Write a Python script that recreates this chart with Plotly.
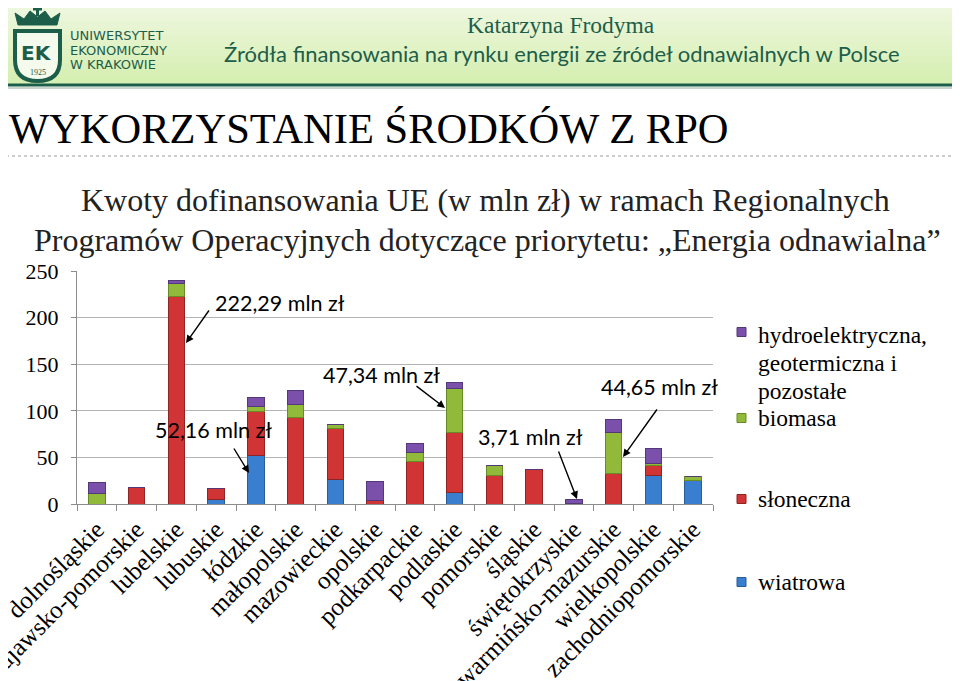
import plotly.graph_objects as go

# data (mln zł)
regions = ["dolnośląskie", "kujawsko-pomorskie", "lubelskie", "lubuskie", "łódzkie",
           "małopolskie", "mazowieckie", "opolskie", "podkarpackie", "podlaskie",
           "pomorskie", "śląskie", "świętokrzyskie", "warmińsko-mazurskie",
           "wielkopolskie", "zachodniopomorskie"]
wiatrowa = [0, 0, 0, 5, 52.16, 0, 26, 0, 0, 12.6, 0, 0, 0, 0, 30.2, 25]
sloneczna = [0, 18, 222.29, 12, 47.3, 92.3, 55.5, 3.5, 46, 63.6, 30.2, 37.4, 0.6, 32.3, 11, 0]
biomasa = [11.5, 0, 14, 0, 5.5, 14.4, 3.5, 0, 9, 47.34, 10.8, 0, 0, 44.65, 2, 5]
hydro = [12, 0, 3.3, 0, 9, 15, 0, 20.5, 10, 6.5, 0, 0, 3.71, 13.6, 16, 0]
y_ticks = [0, 50, 100, 150, 200, 250]

colors = {"wiatrowa": "#3A7ECF", "słoneczna": "#D03434", "biomasa": "#92BA3A",
          "hydro": "#7B50AB"}
edges = {"wiatrowa": "#2A5C96", "słoneczna": "#8E2424", "biomasa": "#6A8A28",
         "hydro": "#54397A"}

SERIF = "Liberation Serif, Times New Roman, serif"
SANS = "Lato, Open Sans, sans-serif"
DKGREEN = "#1D5E4A"

# page body has an 8px margin, so the figure is drawn 8px smaller and offset
OFF = 8
W, H = 960 - OFF, 681 - OFF
# plot area in screen pixels
PL, PR, PT, PB = 77, 713, 271, 504


def xp(p):
    return (p - PL) / (PR - PL)


def yp(p):
    return (PB - p) / (PB - PT)


def path_of(points):
    return "M " + " L ".join("%f,%f" % (xp(a), yp(b)) for a, b in points) + " Z"


fig = go.Figure()
for name, vals, key in [("wiatrowa", wiatrowa, "wiatrowa"),
                        ("słoneczna", sloneczna, "słoneczna"),
                        ("biomasa", biomasa, "biomasa"),
                        ("hydroelektryczna, geotermiczna i pozostałe", hydro, "hydro")]:
    fig.add_trace(go.Bar(x=regions, y=vals, name=name, showlegend=False,
                         marker=dict(color=colors[key], line=dict(color=edges[key], width=1)),
                         width=0.42))

shapes = []
# green banner (stacked strips for a soft vertical gradient)
top_c = (240, 248, 226)
bot_c = (214, 239, 178)
n = 12
for i in range(n):
    t = i / (n - 1)
    c = tuple(int(top_c[k] + (bot_c[k] - top_c[k]) * t) for k in range(3))
    y0 = 84 * i / n
    y1 = 84 * (i + 1) / n
    shapes.append(dict(type="rect", xref="paper", yref="paper", x0=xp(0), x1=xp(968),
                       y0=yp(y1), y1=yp(y0 - 10 if i == 0 else y0), line=dict(width=0),
                       fillcolor="rgb(%d,%d,%d)" % c, layer="below"))
shapes.append(dict(type="line", xref="paper", yref="paper", x0=xp(0), x1=xp(968),
                   y0=yp(85), y1=yp(85), line=dict(color=DKGREEN, width=3)))
shapes.append(dict(type="line", xref="paper", yref="paper", x0=xp(0), x1=xp(968),
                   y0=yp(88), y1=yp(88), line=dict(color="#C8D6CC", width=2)))
# dotted rule under the heading
shapes.append(dict(type="line", xref="paper", yref="paper", x0=xp(0), x1=xp(968),
                   y0=yp(156), y1=yp(156), line=dict(color="#9A9A9A", width=1, dash="dot")))
# logo shield
shield = "M %f,%f L %f,%f Q %f,%f %f,%f Q %f,%f %f,%f L %f,%f Z" % (
    xp(15), yp(31), xp(15), yp(60), xp(15), yp(81), xp(37.5), yp(81),
    xp(60), yp(81), xp(60), yp(60), xp(60), yp(31))
shapes.append(dict(type="path", xref="paper", yref="paper", path=shield,
                   fillcolor="#F4FAEC", line=dict(color=DKGREEN, width=4)))
# logo crown
crown = [(18, 25), (15, 13), (24, 19), (30, 11), (37.5, 17), (45, 11), (51, 19), (60, 13), (57, 25)]
shapes.append(dict(type="path", xref="paper", yref="paper", path=path_of(crown),
                   fillcolor=DKGREEN, line=dict(color=DKGREEN, width=1)))
shapes.append(dict(type="rect", xref="paper", yref="paper", x0=xp(36), x1=xp(39),
                   y0=yp(16), y1=yp(4), fillcolor=DKGREEN, line=dict(width=0)))
shapes.append(dict(type="rect", xref="paper", yref="paper", x0=xp(33), x1=xp(42),
                   y0=yp(10.5), y1=yp(8), fillcolor=DKGREEN, line=dict(width=0)))

# legend squares and labels
leg_squares = [("hydro", 332), ("biomasa", 418), ("słoneczna", 499), ("wiatrowa", 582)]
leg_lines = [("hydroelektryczna,", 335), ("geotermiczna i", 363), ("pozostałe", 391),
             ("biomasa", 418), ("słoneczna", 499), ("wiatrowa", 582)]
annotations = []
for key, sy in leg_squares:
    shapes.append(dict(type="rect", xref="paper", yref="paper", x0=xp(737), x1=xp(746),
                       y0=yp(sy + 4.5), y1=yp(sy - 4.5), fillcolor=colors[key],
                       line=dict(color=edges[key], width=1)))
for txt, ty in leg_lines:
    annotations.append(dict(x=xp(756), y=yp(ty), text=txt, xanchor="left", align="left",
                            font=dict(family=SERIF, size=23.5, color="black")))

# header texts
annotations += [
    dict(x=xp(36), y=yp(53), text="<b>EK</b>", font=dict(family="DejaVu Sans", size=20, color=DKGREEN)),
    dict(x=xp(37.5), y=yp(72), text="1925", font=dict(family=SERIF, size=8, color=DKGREEN)),
    dict(x=xp(68), y=yp(36), text="UNIWERSYTET", xanchor="left",
         font=dict(family="DejaVu Sans", size=13, color=DKGREEN)),
    dict(x=xp(68), y=yp(50.5), text="EKONOMICZNY", xanchor="left",
         font=dict(family="DejaVu Sans", size=13, color=DKGREEN)),
    dict(x=xp(68), y=yp(65), text="W KRAKOWIE", xanchor="left",
         font=dict(family="DejaVu Sans", size=13, color=DKGREEN)),
    dict(x=xp(561), y=yp(25), text="Katarzyna Frodyma",
         font=dict(family=SERIF, size=23.5, color=DKGREEN)),
    dict(x=xp(562), y=yp(53), text="Źródła finansowania na rynku energii ze źródeł odnawialnych w Polsce",
         font=dict(family=SANS, size=22, color=DKGREEN)),
    dict(x=xp(7), y=yp(128), text="WYKORZYSTANIE ŚRODKÓW Z RPO", xanchor="left",
         font=dict(family=SERIF, size=42.5, color="black")),
    dict(x=xp(485), y=yp(200), text="Kwoty dofinansowania UE (w mln zł) w ramach Regionalnych",
         font=dict(family=SERIF, size=32, color="#222222")),
    dict(x=xp(487), y=yp(240), text="Programów Operacyjnych dotyczące priorytetu: „Energia odnawialna”",
         font=dict(family=SERIF, size=32, color="#222222")),
]

# value call-outs with arrows
callouts = [("222,29 mln zł", 280, 303, (210, 309), (186, 343)),
            ("52,16 mln zł", 213, 430, (233, 447), (249, 473)),
            ("47,34 mln zł", 381, 375, (415, 385), (445, 408)),
            ("3,71 mln zł", 530, 437, (558, 450), (577, 499)),
            ("44,65 mln zł", 659, 387, (658, 408), (623, 457))]
for txt, tx, ty, tail, head in callouts:
    annotations.append(dict(x=xp(tx), y=yp(ty), text=txt,
                            font=dict(family=SANS, size=21.5, color="black")))
    annotations.append(dict(x=xp(head[0]), y=yp(head[1]), text="",
                            showarrow=True, ax=tail[0] - head[0], ay=tail[1] - head[1],
                            arrowhead=2, arrowsize=1.1, arrowwidth=1.4, arrowcolor="black"))

for a in annotations:
    a.setdefault("xref", "paper")
    a.setdefault("yref", "paper")
    a.setdefault("showarrow", False)
    a.setdefault("xanchor", "center")
    a.setdefault("yanchor", "middle")

fig.update_layout(
    width=W, height=H,
    margin=dict(l=PL - OFF, r=W - (PR - OFF), t=PT - OFF, b=H - (PB - OFF), autoexpand=False),
    paper_bgcolor="white", plot_bgcolor="white",
    barmode="stack", bargap=0.58,
    shapes=shapes, annotations=annotations,
    xaxis=dict(tickangle=-45, tickfont=dict(family=SERIF, size=25, color="black"),
               showline=True, linecolor="#8C8C8C", ticks="outside", tickson="boundaries",
               ticklen=6, tickcolor="#8C8C8C", showgrid=False, automargin=False),
    yaxis=dict(range=[0, 250], tickvals=y_ticks, tickfont=dict(family=SERIF, size=22, color="black"),
               showline=True, linecolor="#8C8C8C", ticks="outside", ticklen=5,
               ticklabelstandoff=8,
               tickcolor="#8C8C8C", gridcolor="#B4B4B4", gridwidth=1, zeroline=False,
               automargin=False),
)

fig.write_html("out.html")
